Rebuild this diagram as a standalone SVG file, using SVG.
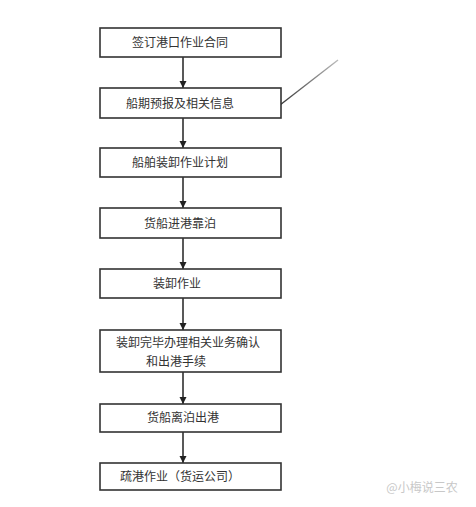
<svg xmlns="http://www.w3.org/2000/svg" width="476" height="507" viewBox="0 0 476 507">
<defs>
<style>
.box{fill:#fff;stroke:#333;stroke-width:1.6}
.t{font-family:"Noto Sans CJK SC","Noto Sans CJK JP",sans-serif;font-size:12px;fill:#333;text-anchor:middle}
.c{stroke:#222;stroke-width:1.5;fill:none}
</style>
<marker id="ah" markerWidth="8" markerHeight="8" refX="7" refY="4" orient="auto" markerUnits="userSpaceOnUse">
<path d="M0,0.5 L7,4 L0,7.5 Z" fill="#222"/>
</marker>
<linearGradient id="fade" x1="279" y1="105" x2="338" y2="60" gradientUnits="userSpaceOnUse">
<stop offset="0" stop-color="#333"/>
<stop offset="1" stop-color="#bbb"/>
</linearGradient>
</defs>
<rect width="476" height="507" fill="#fff"/>
<g id="connectors">
<line class="c" x1="183" y1="57" x2="183" y2="88" marker-end="url(#ah)"/>
<line class="c" x1="183" y1="118" x2="183" y2="148" marker-end="url(#ah)"/>
<line class="c" x1="183" y1="177" x2="183" y2="208" marker-end="url(#ah)"/>
<line class="c" x1="183" y1="238" x2="183" y2="269" marker-end="url(#ah)"/>
<line class="c" x1="183" y1="298" x2="183" y2="330" marker-end="url(#ah)"/>
<line class="c" x1="183" y1="372" x2="183" y2="404" marker-end="url(#ah)"/>
<line class="c" x1="183" y1="432" x2="183" y2="463" marker-end="url(#ah)"/>
<line x1="280" y1="105" x2="338" y2="60" stroke="url(#fade)" stroke-width="1.4"/>
</g>
<g id="n1"><rect class="box" x="100" y="28" width="181" height="29"/><text class="t" x="180" y="47">签订港口作业合同</text></g>
<g id="n2"><rect class="box" x="100" y="88" width="181" height="30"/><text class="t" x="180" y="108">船期预报及相关信息</text></g>
<g id="n3"><rect class="box" x="100" y="148" width="181" height="29"/><text class="t" x="180" y="167">船舶装卸作业计划</text></g>
<g id="n4"><rect class="box" x="100" y="208" width="181" height="30"/><text class="t" x="180" y="228">货船进港靠泊</text></g>
<g id="n5"><rect class="box" x="100" y="269" width="181" height="29"/><text class="t" x="177" y="288">装卸作业</text></g>
<g id="n6"><rect class="box" x="100" y="330" width="181" height="42"/><text class="t" x="188" y="347">装卸完毕办理相关业务确认</text><text class="t" x="176" y="366">和出港手续</text></g>
<g id="n7"><rect class="box" x="100" y="404" width="181" height="28"/><text class="t" x="183" y="422">货船离泊出港</text></g>
<g id="n8"><rect class="box" x="100" y="463" width="181" height="27"/><text class="t" x="180" y="481">疏港作业（货运公司）</text></g>
<text x="422" y="492" font-family="Noto Sans CJK SC,sans-serif" font-size="12" fill="#c8c8c8" text-anchor="middle">@小梅说三农</text>
</svg>
